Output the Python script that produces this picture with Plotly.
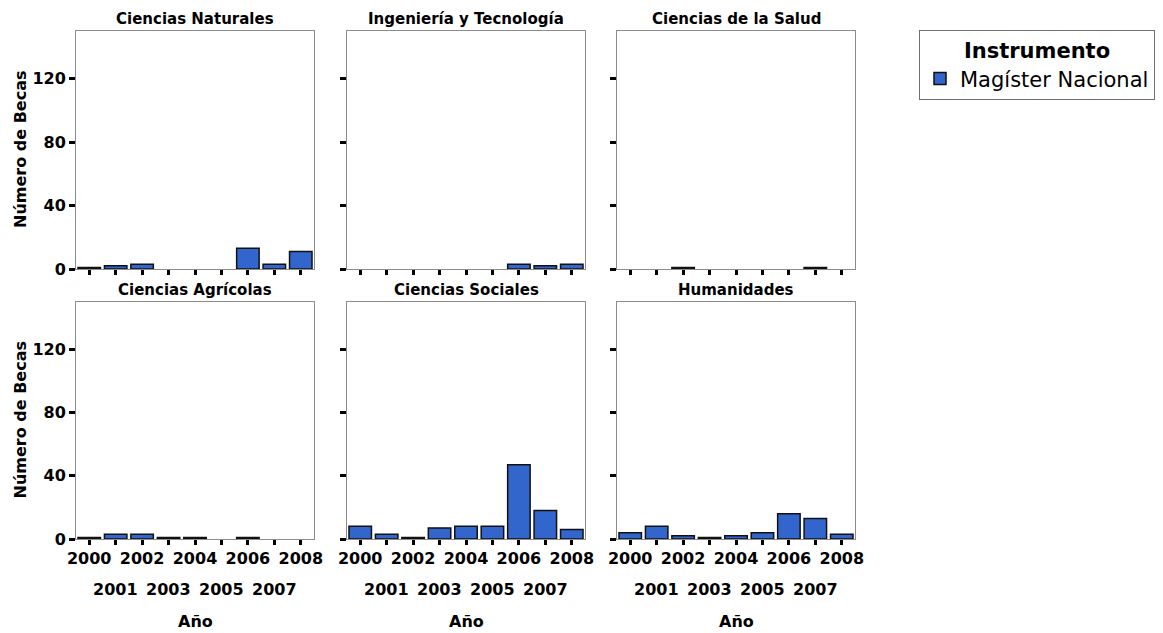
import plotly.graph_objects as go

# ---- data ----
years = [2000, 2001, 2002, 2003, 2004, 2005, 2006, 2007, 2008]
panel_titles = ["Ciencias Naturales", "Ingeniería y Tecnología", "Ciencias de la Salud",
                "Ciencias Agrícolas", "Ciencias Sociales", "Humanidades"]
naturales = [1, 2, 3, 0, 0, 0, 13, 3, 11]
ingenieria = [0, 0, 0, 0, 0, 0, 3, 2, 3]
salud = [0, 0, 1, 0, 0, 0, 0, 1, 0]
agricolas = [1, 3, 3, 1, 1, 0, 1, 0, 0]
sociales = [8, 3, 1, 7, 8, 8, 47, 18, 6]
humanidades = [4, 8, 2, 1, 2, 4, 16, 13, 3]
y_tick_vals = [0, 40, 80, 120]
series_name = "Magíster Nacional"
legend_title = "Instrumento"
x_title = "Año"
y_title = "Número de Becas"

panel_values = [naturales, ingenieria, salud, agricolas, sociales, humanidades]

# ---- layout geometry (pixels) ----
W, H = 1163, 633
ML, MR, MT, MB = 76, 308, 31, 94
PW = W - ML - MR
PH = H - MT - MB
col_px = [(76, 314), (347, 585), (617, 855)]
row_px = [(31, 269), (302, 539)]

def px_x(p):
    return (p - ML) / PW

def px_y(p):
    return (H - MB - p) / PH

FONT = "DejaVu Sans"
BAR_COLOR = "#3366CC"
AXIS_GRAY = "#8c8c8c"

fig = go.Figure()
annotations = []

for i, (title, vals) in enumerate(zip(panel_titles, panel_values)):
    r, c = divmod(i, 3)
    idx = "" if i == 0 else str(i + 1)
    # zero counts draw no bar at all (as in the reference)
    shown = [v if v else None for v in vals]
    fig.add_trace(go.Bar(
        x=years, y=shown, name=series_name,
        xaxis="x" + idx, yaxis="y" + idx,
        marker=dict(color=BAR_COLOR, line=dict(color="#111111", width=1.5)),
        showlegend=(i == 0),
        hoverinfo="x+y",
    ))
    x0, x1 = col_px[c]
    y0, y1 = row_px[r]
    bottom = (r == 1)
    left = (c == 0)
    even_text = [str(y) if y % 2 == 0 else "" for y in years]
    fig.layout["xaxis" + idx] = dict(
        domain=[px_x(x0), px_x(x1)],
        anchor="y" + idx,
        range=[1999.5, 2008.5],
        tickmode="array", tickvals=years, ticktext=even_text,
        showticklabels=bottom,
        ticks="outside", ticklen=5, tickwidth=3, tickcolor="black",
        showline=True, linecolor=AXIS_GRAY, linewidth=1, mirror=True,
        showgrid=False, zeroline=False, automargin=False,
        tickfont=dict(family=FONT, size=16, color="black", weight="bold"),
        fixedrange=True,
    )
    fig.layout["yaxis" + idx] = dict(
        domain=[px_y(y1), px_y(y0)],
        anchor="x" + idx,
        range=[0, 150],
        tickmode="array", tickvals=y_tick_vals,
        showticklabels=left,
        ticks="outside", ticklen=6, tickwidth=3, tickcolor="black",
        showline=True, linecolor=AXIS_GRAY, linewidth=1, mirror=True,
        showgrid=False, zeroline=False, automargin=False,
        tickfont=dict(family=FONT, size=16, color="black", weight="bold"),
        fixedrange=True,
    )
    # panel title
    annotations.append(dict(
        text=title, xref="x" + idx + " domain", x=0.5,
        yref="paper", y=px_y(y0 - 1), yanchor="bottom", xanchor="center",
        showarrow=False,
        font=dict(family=FONT, size=15, color="black", weight="bold"),
    ))
    if left:
        annotations.append(dict(
            text=y_title, xref="paper", x=px_x(20), xanchor="center",
            yref="y" + idx + " domain", y=0.5, yanchor="middle",
            textangle=-90, showarrow=False,
            font=dict(family=FONT, size=16, color="black", weight="bold"),
        ))
    if bottom:
        # odd year labels on a second line
        for yv in years:
            if yv % 2 == 1:
                annotations.append(dict(
                    text=str(yv), xref="x" + idx, x=yv,
                    yref="paper", y=px_y(589), yanchor="middle", xanchor="center",
                    showarrow=False,
                    font=dict(family=FONT, size=16, color="black", weight="bold"),
                ))
        annotations.append(dict(
            text=x_title, xref="x" + idx + " domain", x=0.5,
            yref="paper", y=px_y(621), yanchor="middle", xanchor="center",
            showarrow=False,
            font=dict(family=FONT, size=16, color="black", weight="bold"),
        ))

fig.update_layout(
    width=W, height=H,
    margin=dict(l=ML, r=MR, t=MT, b=MB, autoexpand=False),
    paper_bgcolor="white", plot_bgcolor="white",
    bargap=0.15,
    annotations=annotations,
    legend=dict(
        x=px_x(919), y=px_y(30), xanchor="left", yanchor="top",
        bordercolor="#707070", borderwidth=1, bgcolor="white",
        title=dict(text=legend_title, side="top center",
                   font=dict(family=FONT, size=21, color="black", weight="bold")),
        font=dict(family=FONT, size=21, color="black"),
        itemwidth=30,
    ),
)

fig.write_html(
    "out.html",
    config={"displayModeBar": False},
    post_script="document.body.style.margin='0';document.body.style.overflow='hidden';",
)
